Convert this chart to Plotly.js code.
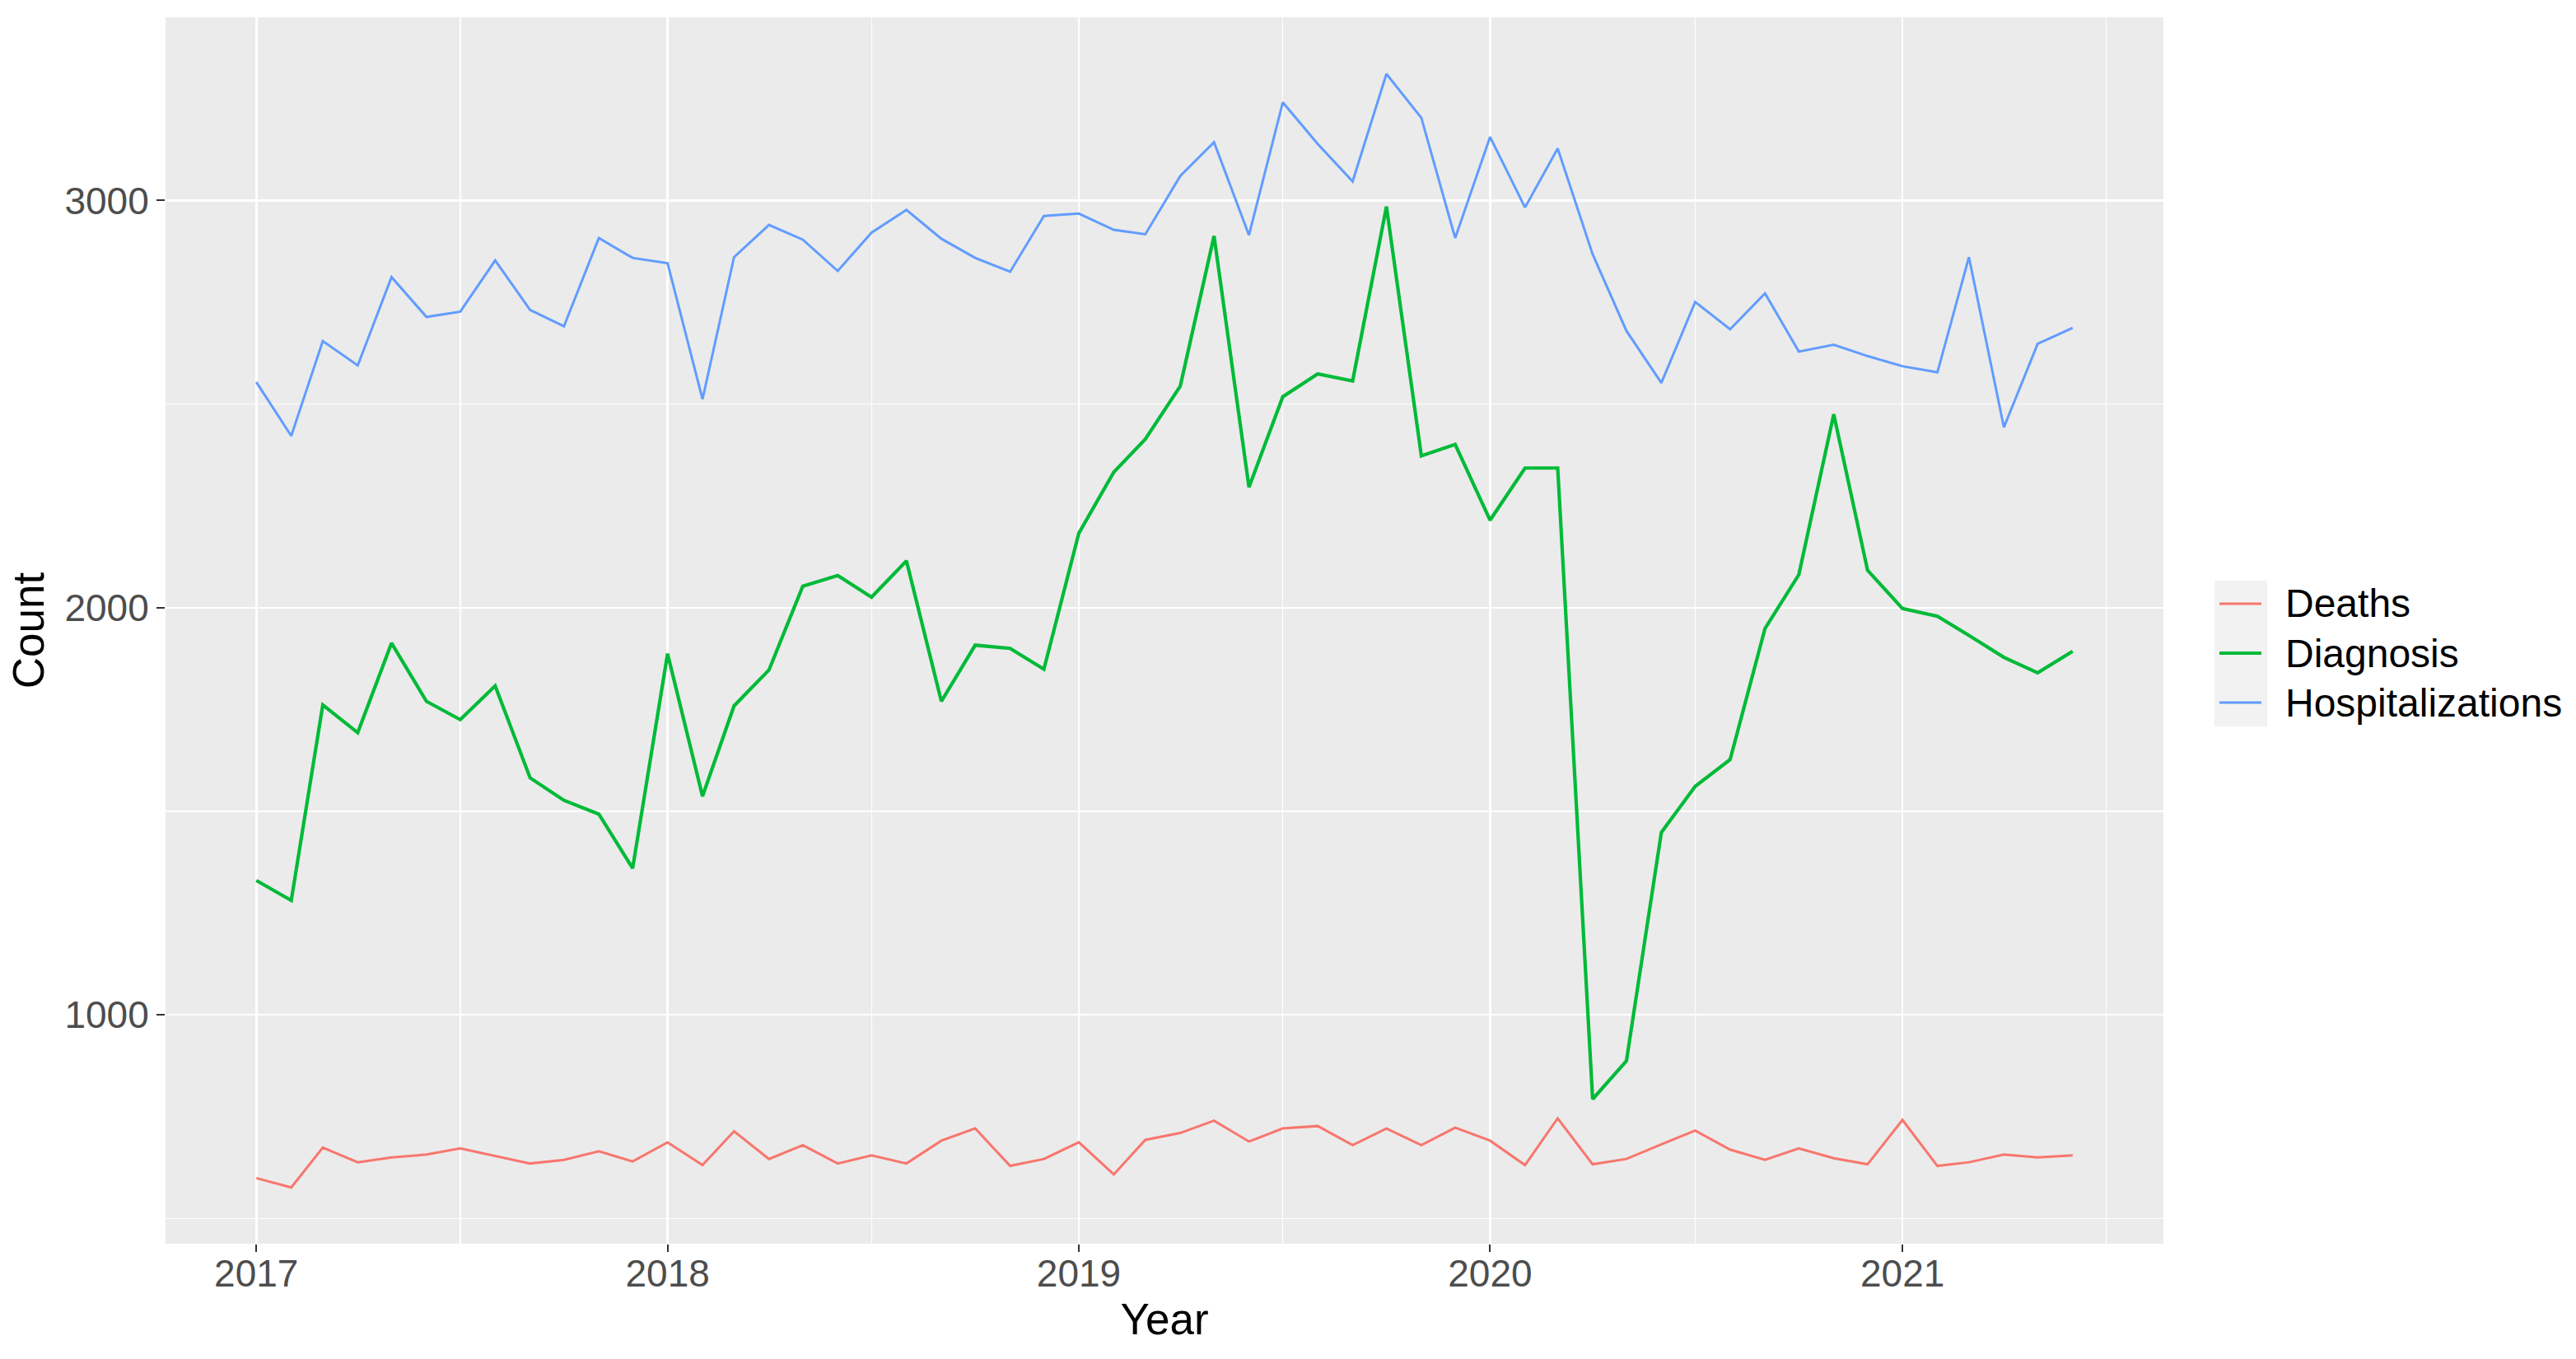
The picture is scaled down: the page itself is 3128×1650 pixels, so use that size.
<!DOCTYPE html>
<html>
<head>
<meta charset="utf-8">
<script src="https://cdn.plot.ly/plotly-3.0.1.min.js"></script>
<style>
html, body { margin: 0; padding: 0; background: #ffffff; }
#chart { width: 3128px; height: 1650px; }
</style>
</head>
<body>
<div id="chart"></div>
<script>
const months = [
  "2017-01-01","2017-02-01","2017-03-01","2017-04-01","2017-05-01","2017-06-01","2017-07-01","2017-08-01","2017-09-01","2017-10-01","2017-11-01","2017-12-01",
  "2018-01-01","2018-02-01","2018-03-01","2018-04-01","2018-05-01","2018-06-01","2018-07-01","2018-08-01","2018-09-01","2018-10-01","2018-11-01","2018-12-01",
  "2019-01-01","2019-02-01","2019-03-01","2019-04-01","2019-05-01","2019-06-01","2019-07-01","2019-08-01","2019-09-01","2019-10-01","2019-11-01","2019-12-01",
  "2020-01-01","2020-02-01","2020-03-01","2020-04-01","2020-05-01","2020-06-01","2020-07-01","2020-08-01","2020-09-01","2020-10-01","2020-11-01","2020-12-01",
  "2021-01-01","2021-02-01","2021-03-01","2021-04-01","2021-05-01","2021-06-01"
];

const deaths = [
  599, 576, 674, 638, 650, 657, 672, 653, 635, 644, 665, 640,
  687, 631, 714, 646, 680, 635, 655, 635, 691, 721, 629, 646,
  687, 608, 693, 710, 740, 689, 721, 727, 680, 721, 680, 723,
  691, 631, 746, 633, 646, 682, 716, 669, 644, 672, 648, 633,
  742, 629, 638, 657, 650, 655
];

const diagnosis = [
  1330, 1281, 1761, 1693, 1913, 1770, 1725, 1808, 1582, 1527, 1493, 1360,
  1887, 1537, 1759, 1847, 2053, 2079, 2026, 2115, 1770, 1908, 1900, 1849,
  2183, 2333, 2414, 2544, 2913, 2296, 2518, 2574, 2557, 2985, 2373, 2401,
  2215, 2343, 2343, 793, 887, 1448, 1561, 1627, 1949, 2081, 2475, 2092,
  1998, 1979, 1932, 1878, 1840, 1893
];

const hospitalizations = [
  2554, 2422, 2655, 2595, 2812, 2714, 2727, 2853, 2731, 2691, 2908, 2859,
  2846, 2512, 2861, 2940, 2904, 2827, 2921, 2977, 2906, 2859, 2825, 2962,
  2968, 2928, 2917, 3060, 3143, 2915, 3241, 3139, 3047, 3311, 3203, 2908,
  3156, 2983, 3128, 2868, 2680, 2552, 2751, 2684, 2772, 2629, 2646, 2618,
  2593, 2578, 2861, 2443, 2648, 2687
];

const seriesNames = ["Deaths", "Diagnosis", "Hospitalizations"];
const seriesColors = ["#F8766D", "#00BA38", "#619CFF"];
const seriesWidths = [3, 4.2, 3];
const yTickVals = [1000, 2000, 3000];
const yTickText = ["1000", "2000", "3000"];

const FONT = "'Liberation Sans', Arial, sans-serif";

const W = 3128, H = 1650;
const M = { l: 201, r: 501, t: 21, b: 140 };
const plotW = W - M.l - M.r, plotH = H - M.t - M.b;
const px2paperX = p => (p - M.l) / plotW;
const px2paperY = p => (H - M.b - p) / plotH;

const seriesValues = [deaths, diagnosis, hospitalizations];
const traces = seriesNames.map((name, i) => ({
  x: months, y: seriesValues[i], name: name, type: "scatter", mode: "lines",
  line: { color: seriesColors[i], width: seriesWidths[i] }, showlegend: false
}));

// ggplot-style legend (key background, key lines, labels)
const legendRowY = [733, 793, 853];
const shapes = [
  { type: "rect", xref: "paper", yref: "paper",
    x0: px2paperX(2689), x1: px2paperX(2753), y0: px2paperY(882), y1: px2paperY(705),
    fillcolor: "#F2F2F2", line: { width: 0 }, layer: "above" }
];
const annotations = [];
seriesNames.forEach((name, i) => {
  shapes.push({ type: "line", xref: "paper", yref: "paper",
    x0: px2paperX(2695), x1: px2paperX(2746), y0: px2paperY(legendRowY[i]), y1: px2paperY(legendRowY[i]),
    line: { color: seriesColors[i], width: seriesWidths[i] }, layer: "above" });
  annotations.push({ xref: "paper", yref: "paper", x: px2paperX(2773), y: px2paperY(legendRowY[i]),
    xanchor: "left", yanchor: "middle", showarrow: false, text: name,
    font: { family: FONT, size: 48, color: "#000000" } });
});

const layout = {
  width: W,
  height: H,
  paper_bgcolor: "#ffffff",
  plot_bgcolor: "#EBEBEB",
  margin: { l: M.l, r: M.r, t: M.t, b: M.b, pad: 0 },
  font: { family: FONT, color: "#000000" },
  showlegend: false,
  xaxis: {
    type: "date",
    range: ["2016-10-12 10:00", "2021-08-20 14:00"],
    tickmode: "linear",
    tick0: "2017-01-01",
    dtick: "M12",
    tickformat: "%Y",
    ticks: "outside",
    ticklen: 9,
    tickwidth: 2,
    tickcolor: "#333333",
    ticklabelstandoff: -13,
    tickfont: { family: FONT, size: 46, color: "#4D4D4D" },
    showgrid: true,
    gridcolor: "#FFFFFF",
    gridwidth: 2.6,
    minor: { tick0: "2017-07-01", dtick: "M12", showgrid: true, gridcolor: "#FFFFFF", gridwidth: 1.3, ticks: "" },
    zeroline: false,
    showline: false,
    automargin: false,
    title: { text: "Year", font: { family: FONT, size: 53, color: "#000000" }, standoff: 4 }
  },
  yaxis: {
    range: [438, 3450],
    tickmode: "array",
    tickvals: yTickVals,
    ticktext: yTickText,
    ticks: "outside",
    ticklen: 10,
    tickwidth: 2,
    tickcolor: "#333333",
    tickfont: { family: FONT, size: 46, color: "#4D4D4D" },
    showgrid: true,
    gridcolor: "#FFFFFF",
    gridwidth: 2.6,
    minor: { tick0: 500, dtick: 1000, showgrid: true, gridcolor: "#FFFFFF", gridwidth: 1.3, ticks: "" },
    zeroline: false,
    showline: false,
    automargin: false,
    title: { text: "Count", font: { family: FONT, size: 53, color: "#000000" }, standoff: 7 }
  },
  shapes: shapes,
  annotations: annotations
};

Plotly.newPlot("chart", traces, layout, { displayModeBar: false, staticPlot: true });
</script>
</body>
</html>
